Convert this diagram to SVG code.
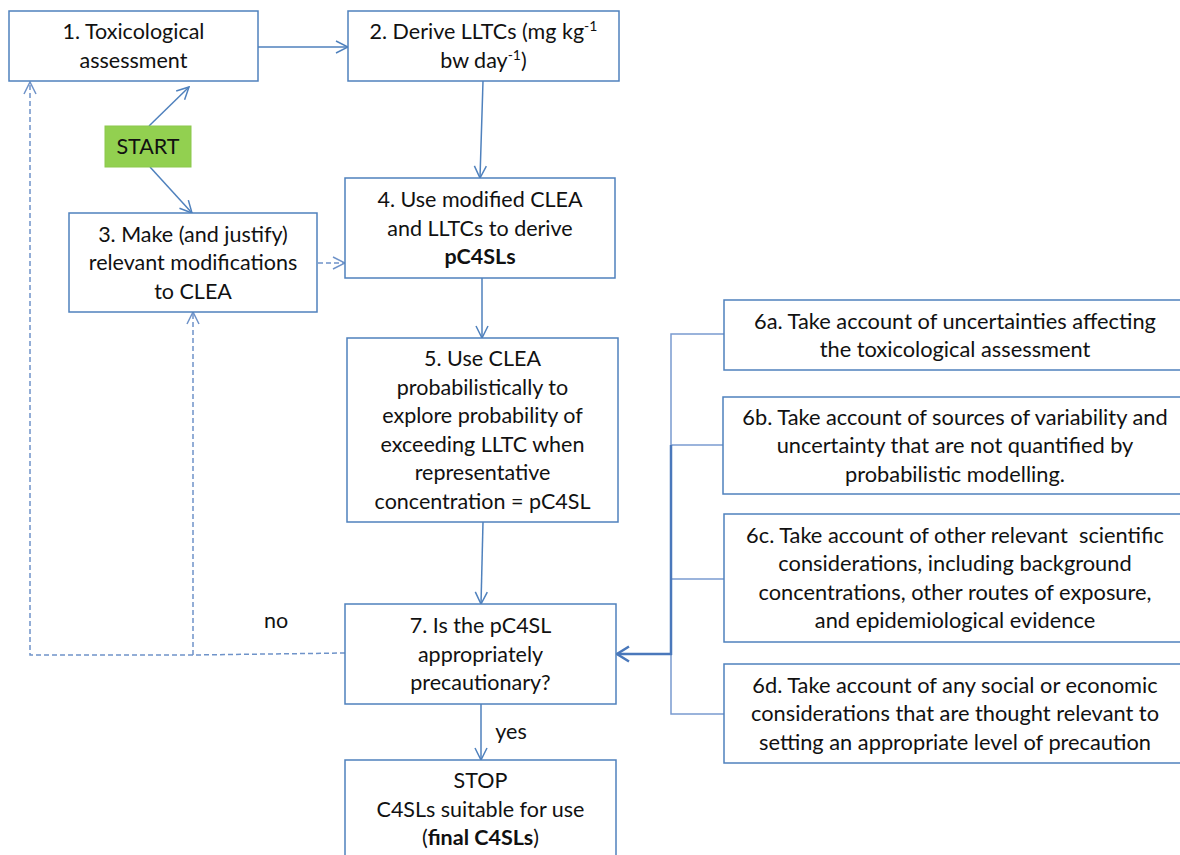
<svg xmlns="http://www.w3.org/2000/svg" width="1180" height="855" viewBox="0 0 1180 855">
<style>
.box{fill:#fff;stroke:#4f81bd;stroke-width:1.5}
.t{font-family:Lato,"Open Sans","Liberation Sans",sans-serif;font-size:21.5px;fill:#111;text-anchor:middle}
.b{font-weight:bold}
.w{font-size:21.8px;white-space:pre}
.c{fill:none;stroke:#4f81bd;stroke-width:1.5}
.d{fill:none;stroke:#6f93c9;stroke-width:1.5;stroke-dasharray:5 3}
.br{fill:none;stroke:#7a9bd0;stroke-width:1.5}
.bb{fill:none;stroke:#4a78bb;stroke-width:2.5}
</style>
<defs>
<marker id="a" markerUnits="userSpaceOnUse" markerWidth="14" markerHeight="14" viewBox="0 0 14 14" refX="13" refY="7" orient="auto">
<path d="M1,1 L13,7 L1,13" fill="none" stroke="#4f81bd" stroke-width="1.5"/>
</marker>
<marker id="ad" markerUnits="userSpaceOnUse" markerWidth="14" markerHeight="14" viewBox="0 0 14 14" refX="13" refY="7" orient="auto">
<path d="M1,1 L13,7 L1,13" fill="none" stroke="#6f93c9" stroke-width="1.5"/>
</marker>
<marker id="ab" markerUnits="userSpaceOnUse" markerWidth="16" markerHeight="18" viewBox="0 0 16 18" refX="14" refY="9" orient="auto">
<path d="M2,1.5 L14,9 L2,16.5" fill="none" stroke="#4a78bb" stroke-width="2.5"/>
</marker>
</defs>
<rect width="1180" height="855" fill="#fff"/>

<g id="connectors">
<line class="c" x1="258" y1="47" x2="348" y2="47" marker-end="url(#a)"/>
<line class="c" x1="149" y1="126" x2="189" y2="87" marker-end="url(#a)"/>
<line class="c" x1="150" y1="167" x2="192" y2="213" marker-end="url(#a)"/>
<line class="c" x1="483" y1="81" x2="480" y2="178" marker-end="url(#a)"/>
<line class="d" x1="318" y1="263" x2="345" y2="263" marker-end="url(#ad)"/>
<line class="c" x1="482" y1="278" x2="482" y2="338" marker-end="url(#a)"/>
<line class="c" x1="483" y1="522" x2="481" y2="604" marker-end="url(#a)"/>
<line class="c" x1="481" y1="704" x2="481" y2="760" marker-end="url(#a)"/>
<path class="d" d="M345,653 L193,655 L30,655 L30,82" marker-end="url(#ad)"/>
<path class="d" d="M193,655 L193,312" marker-end="url(#ad)"/>
<path class="br" d="M725,334 L671,334 L671,714 L724,714"/>
<line class="br" x1="671" y1="445" x2="723" y2="445"/>
<line class="br" x1="671" y1="579" x2="724" y2="579"/>
<line class="bb" x1="671" y1="445" x2="671" y2="655"/>
<line class="bb" x1="672" y1="654" x2="617" y2="654" marker-end="url(#ab)"/>
<text class="t" x="276" y="628">no</text>
<text class="t" x="511" y="739">yes</text>
</g>

<g id="n1">
<rect class="box" x="9" y="11" width="249" height="70"/>
<text class="t" x="133.5" y="39">1. Toxicological</text>
<text class="t" x="133.5" y="67.5">assessment</text>
</g>

<g id="n2">
<rect class="box" x="348" y="11" width="271" height="70"/>
<text class="t" x="483.5" y="39">2. Derive LLTCs (mg kg<tspan font-size="14" dy="-8">-1</tspan></text>
<text class="t" x="483.5" y="67.5">bw day<tspan font-size="14" dy="-8">-1</tspan><tspan dy="8">)</tspan></text>
</g>

<g id="start">
<rect x="105" y="126" width="86" height="41" fill="#92d050" stroke="#8cc84c" stroke-width="1"/>
<text class="t" x="148" y="154">START</text>
</g>

<g id="n3">
<rect class="box" x="69" y="213" width="248" height="99"/>
<text class="t" x="193" y="241.5">3. Make (and justify)</text>
<text class="t" x="193" y="270">relevant modifications</text>
<text class="t" x="193" y="298.5">to CLEA</text>
</g>

<g id="n4">
<rect class="box" x="345" y="178" width="270" height="100"/>
<text class="t" x="480" y="207">4. Use modified CLEA</text>
<text class="t" x="480" y="235.5">and LLTCs to derive</text>
<text class="t b" x="480" y="264">pC4SLs</text>
</g>

<g id="n5">
<rect class="box" x="347" y="338" width="271" height="184"/>
<text class="t" x="482.5" y="366">5. Use CLEA</text>
<text class="t" x="482.5" y="394.5">probabilistically to</text>
<text class="t" x="482.5" y="423">explore probability of</text>
<text class="t" x="482.5" y="451.5">exceeding LLTC when</text>
<text class="t" x="482.5" y="480">representative</text>
<text class="t" x="482.5" y="508.5">concentration = pC4SL</text>
</g>

<g id="n7">
<rect class="box" x="345" y="604" width="271" height="100"/>
<text class="t" x="480.5" y="633">7. Is the pC4SL</text>
<text class="t" x="480.5" y="661.5">appropriately</text>
<text class="t" x="480.5" y="690">precautionary?</text>
</g>

<g id="stop">
<rect class="box" x="345" y="760" width="271" height="110"/>
<text class="t" x="480.5" y="788">STOP</text>
<text class="t" x="480.5" y="816.5">C4SLs suitable for use</text>
<text class="t" x="480.5" y="845">(<tspan class="b">final C4SLs</tspan>)</text>
</g>

<g id="n6a">
<rect class="box" x="724" y="300" width="462" height="70"/>
<text class="t w" x="955" y="328.5">6a. Take account of uncertainties affecting</text>
<text class="t w" x="955" y="357">the toxicological assessment</text>
</g>

<g id="n6b">
<rect class="box" x="723" y="397" width="463" height="97"/>
<text class="t w" x="955" y="424.5">6b. Take account of sources of variability and</text>
<text class="t w" x="955" y="453">uncertainty that are not quantified by</text>
<text class="t w" x="955" y="481.5">probabilistic modelling.</text>
</g>

<g id="n6c">
<rect class="box" x="724" y="514" width="462" height="128"/>
<text class="t w" x="955" y="542.5">6c. Take account of other relevant  scientific</text>
<text class="t w" x="955" y="571">considerations, including background</text>
<text class="t w" x="955" y="599.5">concentrations, other routes of exposure,</text>
<text class="t w" x="955" y="628">and epidemiological evidence</text>
</g>

<g id="n6d">
<rect class="box" x="724" y="664" width="462" height="99"/>
<text class="t w" x="955" y="692.5">6d. Take account of any social or economic</text>
<text class="t w" x="955" y="721">considerations that are thought relevant to</text>
<text class="t w" x="955" y="749.5">setting an appropriate level of precaution</text>
</g>
</svg>
